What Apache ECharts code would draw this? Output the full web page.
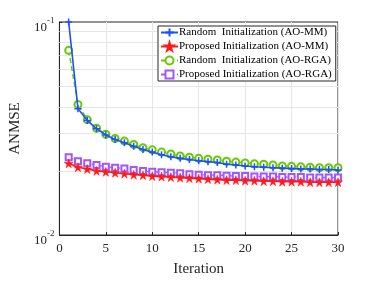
<!DOCTYPE html>
<html>
<head>
<meta charset="utf-8">
<script src="https://cdn.jsdelivr.net/npm/echarts@6/dist/echarts.min.js"></script>
<style>html,body{margin:0;padding:0;background:#fff}#c{width:374px;height:282px}</style>
</head>
<body>
<div id="c"></div>
<script>
const iterations = [1,2,3,4,5,6,7,8,9,10,11,12,13,14,15,16,17,18,19,20,21,22,23,24,25,26,27,28,29,30];
const randomMM = [0.100,0.0392,0.0345,0.0315,0.0295,0.0281,0.0271,0.0261,0.0252,0.0245,0.0238,0.0233,0.0229,0.0226,0.0223,0.0221,0.0219,0.0215,0.0213,0.0211,0.0209,0.0208,0.0207,0.0206,0.0205,0.0204,0.0204,0.0203,0.0203,0.0202];
const proposedMM = [0.0217,0.0208,0.0204,0.0200,0.0198,0.0196,0.0194,0.0192,0.0191,0.0189,0.0188,0.0187,0.0186,0.0185,0.0184,0.0183,0.0182,0.0181,0.0181,0.0180,0.0180,0.0179,0.0179,0.0178,0.0178,0.0178,0.0177,0.0177,0.0177,0.0177];
const randomRGA = [0.0736,0.0410,0.0348,0.0317,0.0297,0.0284,0.0276,0.0266,0.0257,0.0251,0.0245,0.0240,0.0235,0.0232,0.0229,0.0227,0.0225,0.0222,0.0220,0.0218,0.0216,0.0215,0.0213,0.0211,0.0210,0.0209,0.0208,0.0207,0.0207,0.0207];
const proposedRGA = [0.0232,0.0222,0.0217,0.0213,0.0209,0.0207,0.0205,0.0202,0.0200,0.0198,0.0197,0.0196,0.0195,0.0193,0.0192,0.0191,0.0191,0.0190,0.0189,0.0189,0.0188,0.0188,0.0188,0.0187,0.0187,0.0187,0.0186,0.0186,0.0186,0.0186];
const seriesNames = ['Random  Initialization (AO-MM)','Proposed Initialization (AO-MM)','Random  Initialization (AO-RGA)','Proposed Initialization (AO-RGA)'];
const xTicks = [0,5,10,15,20,25,30];
const yMinorGrid = [0.02,0.03,0.04,0.05,0.06,0.07,0.08,0.09];

const FONT = 'Liberation Serif';
const pair = arr => iterations.map((x,i)=>[x,arr[i]]);
const plusPath = 'path://M0,5L10,5M5,0L5,10';
const starPath = 'path://M50,0L61,35L98,35L68,57L79,91L50,70L21,91L32,57L2,35L39,35Z';

const chart = echarts.init(document.getElementById('c'), null, {renderer:'canvas'});
chart.setOption({
  animation:false,
  backgroundColor:'#fff',
  textStyle:{fontFamily:FONT},
  grid:{left:49,right:36,top:22,bottom:37,show:true,borderColor:'#262626',borderWidth:1,backgroundColor:'transparent'},
  legend:{
    left:158, top:26, orient:'vertical', z:20,
    backgroundColor:'#fff', borderColor:'#262626', borderWidth:1,
    padding:[1,4,1,2], itemGap:3, itemWidth:17, itemHeight:10,
    textStyle:{fontFamily:FONT,fontSize:11,color:'#000',padding:[0,0,0,-4]},
    data:seriesNames
  },
  xAxis:{
    type:'value', min:0, max:30, interval:5,
    name:'Iteration', nameLocation:'middle', nameGap:27,
    nameTextStyle:{fontFamily:FONT,fontSize:15,color:'#262626'},
    axisLine:{show:true,lineStyle:{color:'#262626'}},
    axisTick:{show:true,inside:true,length:3,lineStyle:{color:'#262626'}},
    axisLabel:{fontFamily:FONT,fontSize:13,color:'#262626',margin:7,formatter:v=>xTicks.includes(v)?String(v):''},
    splitLine:{show:true,lineStyle:{color:'#e6e6e6',width:1}}
  },
  yAxis:{
    type:'log', logBase:10, min:0.01, max:0.1,
    name:'ANMSE', nameLocation:'middle', nameGap:32, nameRotate:90,
    nameTextStyle:{fontFamily:FONT,fontSize:15,color:'#262626'},
    axisLine:{show:true,lineStyle:{color:'#262626'}},
    axisTick:{show:true,inside:true,length:3,lineStyle:{color:'#262626'}},
    axisLabel:{
      margin:5, color:'#262626',
      formatter:v=>{const e=Math.round(Math.log10(v));return '{b|10}{s|'+e+'}';},
      rich:{
        b:{fontFamily:FONT,fontSize:13,color:'#262626',padding:[12,0,0,0]},
        s:{fontFamily:FONT,fontSize:9,color:'#262626',padding:[0,0,2,0]}
      }
    },
    splitLine:{show:false}
  },
  series:[
    {
      name:seriesNames[0], type:'line', data:pair(randomMM),
      symbol:plusPath, symbolSize:7,
      lineStyle:{color:'#1f4fff',width:1.6},
      itemStyle:{color:'#1f4fff',borderColor:'#1f4fff',borderWidth:1.5},
      markLine:{
        silent:true, symbol:['none','none'], label:{show:false}, z:1,
        lineStyle:{color:'#e6e6e6',width:1,type:'solid'},
        data:yMinorGrid.map(v=>({yAxis:v}))
      },
      z:3
    },
    {
      name:seriesNames[1], type:'line', data:pair(proposedMM),
      symbol:starPath, symbolSize:9,
      lineStyle:{color:'#ff1a1a',width:1.6},
      itemStyle:{color:'#ff1a1a',borderColor:'#ff1a1a',borderWidth:0.5},
      z:4
    },
    {
      name:seriesNames[2], type:'line', data:pair(randomRGA),
      symbol:'emptyCircle', symbolSize:7,
      lineStyle:{color:'#66cc00',width:1.5,type:[5,3]},
      itemStyle:{color:'#66cc00',borderColor:'#66cc00',borderWidth:1.5},
      z:2
    },
    {
      name:seriesNames[3], type:'line', data:pair(proposedRGA),
      symbol:'emptyRect', symbolSize:6,
      lineStyle:{color:'#a355ff',width:1.2,type:[5,3]},
      itemStyle:{color:'#a355ff',borderColor:'#a355ff',borderWidth:1.2},
      z:2
    }
  ]
});
</script>
</body>
</html>
